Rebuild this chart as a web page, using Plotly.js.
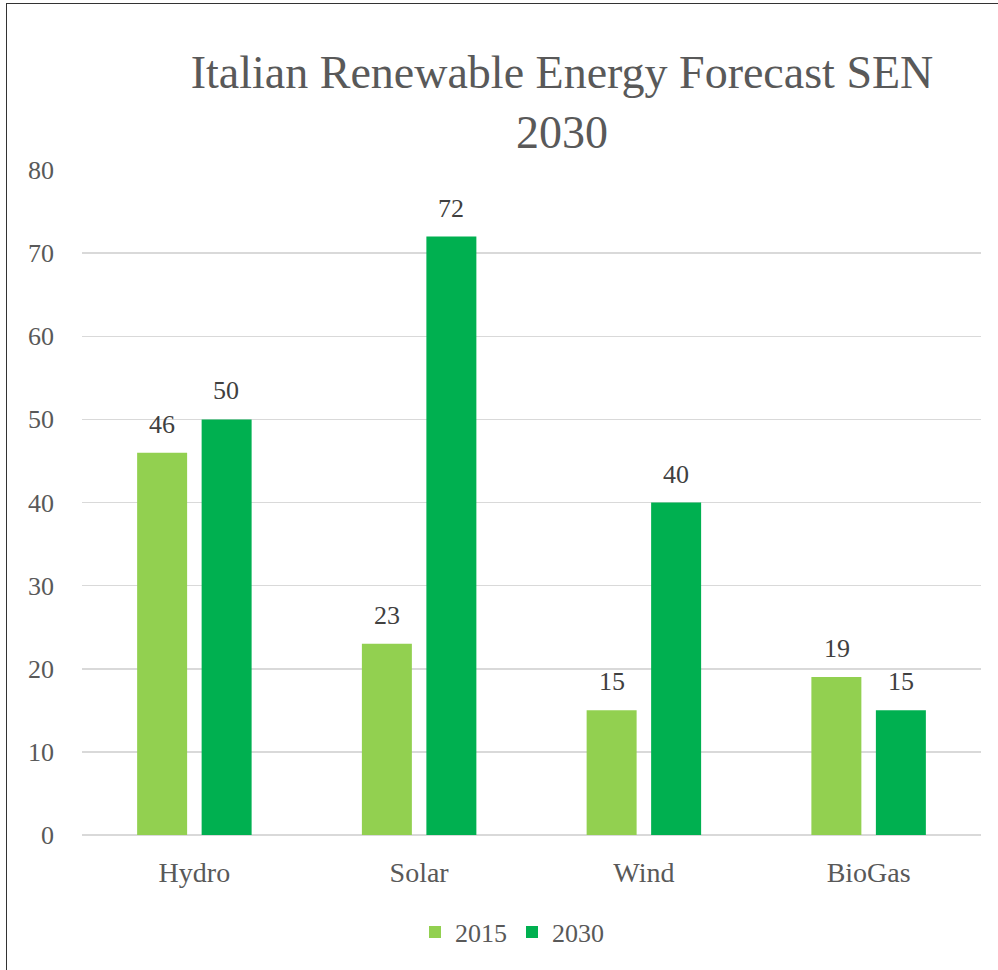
<!DOCTYPE html>
<html>
<head>
<meta charset="utf-8">
<script src="https://cdn.plot.ly/plotly-3.0.1.min.js"></script>
<style>
  html, body { margin: 0; padding: 0; background: #fff; }
  #wrap { position: relative; width: 998px; height: 970px; overflow: hidden; }
  #chart { position: absolute; left: 0; top: 0; width: 998px; height: 970px; }
  #frame { position: absolute; left: 6px; top: 3px; width: 1100px; height: 1100px;
           border-left: 1.5px solid #333; border-top: 1.5px solid #333; pointer-events: none; }
</style>
</head>
<body>
<div id="wrap">
  <div id="chart"></div>
  <div id="frame"></div>
</div>
<script>
const categories = ["Hydro", "Solar", "Wind", "BioGas"];
const seriesNames = ["2015", "2030"];
const values2015 = [46, 23, 15, 19];
const values2030 = [50, 72, 40, 15];
const yTicks = [0, 10, 20, 30, 40, 50, 60, 70, 80];

const colors = ["#92D050", "#00B050"];
const font = "Liberation Serif";
const textColor = "#595959";

const traces = [
  { type: "bar", name: seriesNames[0], x: categories, y: values2015,
    marker: { color: colors[0] }, hoverinfo: "x+y" },
  { type: "bar", name: seriesNames[1], x: categories, y: values2030,
    marker: { color: colors[1] }, hoverinfo: "x+y" }
];

const annotations = [];
[values2015, values2030].forEach((vals, si) => {
  vals.forEach((v, i) => {
    annotations.push({
      x: categories[i], y: v, xref: "x", yref: "y",
      text: String(v), showarrow: false,
      xshift: si === 0 ? -32 : 32, yshift: 12, yanchor: "bottom",
      font: { family: font, size: 26, color: "#404040" }
    });
  });
});

const layout = {
  width: 998, height: 970,
  font: { family: font },
  margin: { l: 82, r: 17, t: 170, b: 135 },
  paper_bgcolor: "#fff", plot_bgcolor: "#fff",
  barmode: "group", bargap: 0.426, bargroupgap: 0.225,
  title: {
    text: "Italian Renewable Energy Forecast SEN<br>2030",
    x: 562 / 998, xref: "container", xanchor: "center",
    y: 1 - 88 / 970, yref: "container", yanchor: "top",
    font: { family: font, size: 46, color: textColor }
  },
  xaxis: {
    type: "category",
    showgrid: false, zeroline: false, showline: false,
    ticks: "", ticklabelstandoff: 18,
    tickfont: { family: font, size: 28, color: textColor }
  },
  yaxis: {
    range: [0, 80], tickvals: yTicks, ticktext: yTicks.map(String),
    showgrid: true, gridcolor: "#D9D9D9", gridwidth: 1.5,
    zeroline: true, zerolinecolor: "#D9D9D9", zerolinewidth: 2,
    showline: false, ticks: "", ticklabelstandoff: 27,
    tickfont: { family: font, size: 26, color: textColor }
  },
  showlegend: true,
  legend: {
    orientation: "h", x: (512 - 82) / 899, xanchor: "center",
    y: (835 - 932) / 665, yanchor: "middle",
    font: { family: font, size: 26, color: textColor },
    itemwidth: 30, traceorder: "normal"
  },
  annotations: annotations
};

Plotly.newPlot("chart", traces, layout, { displayModeBar: false, staticPlot: true });
</script>
</body>
</html>
